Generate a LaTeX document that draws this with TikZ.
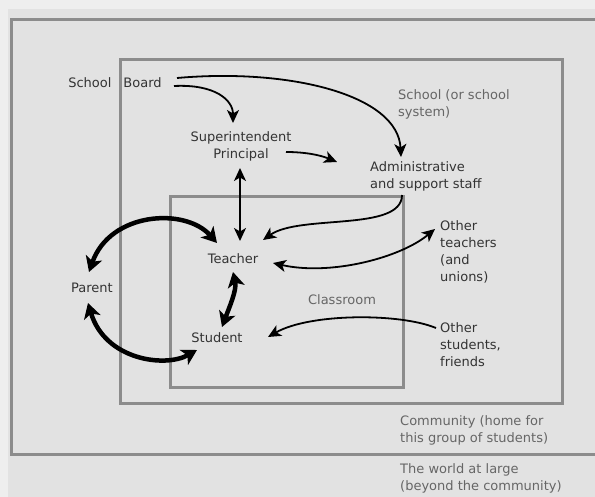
\documentclass[tikz,border=0pt]{standalone}
\usepackage{fontspec}
\setmainfont{DejaVu Sans}
\usetikzlibrary{arrows.meta,calc}
\definecolor{pagebg}{HTML}{E2E2E2}
\definecolor{edgebg}{HTML}{EEEEEE}
\definecolor{boxline}{HTML}{8C8C8C}
\definecolor{lbl}{HTML}{333333}
\definecolor{reg}{HTML}{666666}
\begin{document}
\begin{tikzpicture}[x=1pt,y=-1pt,
  every node/.style={inner sep=0pt, font=\fontsize{13}{17}\selectfont},
  actor/.style={text=lbl, align=center},
  region/.style={text=reg, align=left, anchor=west},
  side/.style={text=lbl, align=left, anchor=west},
  boxrule/.style={draw=boxline, line width=3pt},
  thin/.style={draw=black, line width=1.8pt, -{Stealth[length=13pt,width=12pt,inset=3.5pt]}},
  thinboth/.style={draw=black, line width=1.8pt, {Stealth[length=13pt,width=12pt,inset=3.5pt]}-{Stealth[length=13pt,width=12pt,inset=3.5pt]}},
  thick/.style={draw=black, line width=4.5pt, {Stealth[length=15pt,width=17pt,inset=4pt]}-{Stealth[length=15pt,width=17pt,inset=4pt]}}
]
\useasboundingbox (0,0) rectangle (595,497);
\fill[edgebg] (0,0) rectangle (595,497);
\fill[pagebg] (8,9) rectangle (595,497);

% frames
\draw[boxrule] (595,20) -- (11,20) -- (11,454) -- (595,454);
\draw[boxrule] (120,60) rectangle (562,403);
\draw[boxrule] (170,197) rectangle (403,387);

% nodes
\node[actor] (sb) at (115,83) {School\hspace{12pt}Board};
\node[actor] (sup) at (241,146) {Superintendent\\Principal};
\node[side] (adm) at (370,176) {Administrative\\and support staff};
\node[region] (sch) at (398,104) {School (or school\\system)};
\node[side] (ot) at (440,252) {Other\\teachers\\(and\\unions)};
\node[region, anchor=center] (cls) at (342,300) {Classroom};
\node[side] (os) at (440,345) {Other\\students,\\friends};
\node[region] (com) at (400,430) {Community (home for\\this group of students)};
\node[region] (wor) at (400,478) {The world at large\\(beyond the community)};
\node[actor] (tea) at (233,259) {Teacher};
\node[actor] (par) at (92,288) {Parent};
\node[actor] (stu) at (217,338) {Student};

% thin connectors
\draw[thin] ($(sb.center)+(59,3)$) .. controls (215,84) and (233,100) .. ($(sup.center)+(-8,-23)$);
\draw[thin] ($(sb.center)+(62,-5)$) .. controls (290,68) and (398,95) .. ($(adm.west)+(31,-19)$);
\draw[thin] ($(sup.center)+(45,6)$) .. controls (305,152) and (320,155) .. ($(adm.west)+(-33,-14)$);
\draw[thinboth] ($(sup.center)+(-1,22)$) -- ($(tea.center)+(7,-18)$);
\draw[thin] ($(adm.west)+(32,19)$) .. controls (402,232) and (300,214) .. ($(tea.center)+(30,-19)$);
\draw[thinboth] ($(tea.center)+(40,4)$) .. controls (330,276) and (400,258) .. ($(ot.west)+(-5,-23)$);
\draw[thin] ($(os.west)+(-4,-17)$) .. controls (400,313) and (310,313) .. ($(stu.center)+(51,-1)$);

% thick connectors
\draw[thick] ($(tea.center)+(0,13)$) .. controls (237,290) and (229,308) .. ($(stu.center)+(5,-11)$);
\draw[thick] ($(par.center)+(-3,-16)$) .. controls (110,212) and (185,207) .. ($(tea.center)+(-16,-16)$);
\draw[thick] ($(par.center)+(-4,15)$) .. controls (105,360) and (165,368) .. ($(stu.center)+(-20,12)$);
\end{tikzpicture}
\end{document}
